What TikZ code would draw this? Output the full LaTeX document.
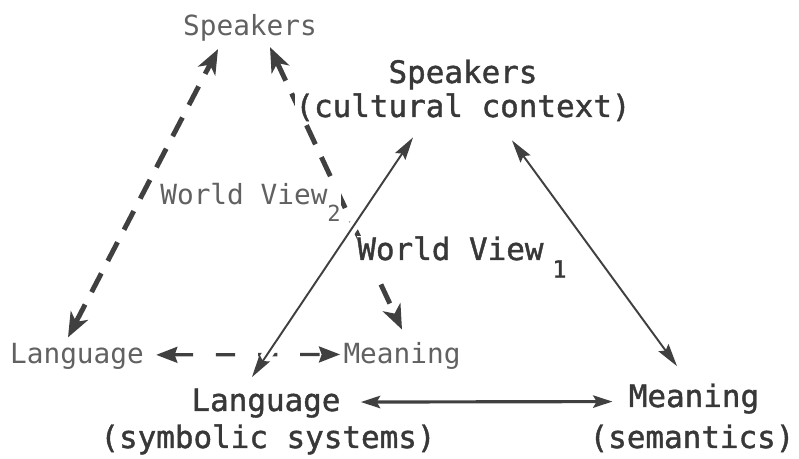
\documentclass[tikz,border=0pt]{standalone}
\usepackage{fontspec}
\usetikzlibrary{arrows.meta,calc,backgrounds}
\newfontfamily\backfont{DejaVu Sans Mono}
\newfontfamily\frontfont{DejaVu Sans Mono}[FakeBold=1.3]
\definecolor{arrgray}{gray}{0.25}
\definecolor{backtext}{gray}{0.38}
\definecolor{fronttext}{gray}{0.22}
\tikzset{
  backlbl/.style={font=\backfont\fontsize{15.8}{18}\selectfont, text=backtext, fill=white, inner sep=0pt, anchor=base},
  frontlbl/.style={font=\frontfont\fontsize{17.6}{20}\selectfont, text=fronttext, fill=white, inner sep=0pt, anchor=base},
  backarr/.style={draw=arrgray, line width=2.8pt, dash pattern=on 12pt off 8pt, {Stealth[length=14pt,width=11pt,inset=4pt]}-{Stealth[length=14pt,width=11pt,inset=4pt]}},
  backflat/.style={draw=arrgray, line width=1.9pt, dash pattern=on 11pt off 13pt, {Stealth[length=12pt,width=9pt,inset=1.5pt]}-{Stealth[length=12pt,width=9pt,inset=1.5pt]}},
  frontarr/.style={draw=arrgray, line width=1.1pt, preaction={draw=white, line width=6pt, -}, {Stealth[length=13pt,width=7pt,inset=2pt]}-{Stealth[length=13pt,width=7pt,inset=2pt]}},
  frontflat/.style={draw=arrgray, line width=1.8pt, {Stealth[length=11pt,width=7pt,inset=2pt]}-{Stealth[length=11pt,width=7pt,inset=2pt]}}
}

\begin{document}
\begin{tikzpicture}[x=0.02cm, y=-0.02cm]
    \useasboundingbox (0,0) rectangle (799,459);

    % world view 2
    \node[backlbl] (spk2) at (250,36) {Speakers};
    \node[backlbl, anchor=base west] (wv2) at (160,205) {World View\raisebox{-9.5pt}{\fontsize{12.6}{14}\selectfont 2}};
    \node[backlbl] (lang2) at (77,364) {Language};
    \node[backlbl] (mean2) at (402,364) {Meaning};

    % world view 1
    \node[frontlbl] (spk1) at (463,83) {Speakers};
    \node[frontlbl] (ctx1) at (463,117) {(cultural context)};
    \node[frontlbl, anchor=base west] (wv1) at (357,260) {World View\hspace{5pt}\raisebox{-10pt}{\fontsize{13.5}{15}\selectfont 1}};
    \node[frontlbl] (lang1) at (266,411) {Language};
    \node[frontlbl] (sym1) at (268,448) {(symbolic systems)};
    \node[frontlbl] (mean1) at (694,407) {Meaning};
    \node[frontlbl] (sem1) at (692,448) {(semantics)};

    \begin{scope}[on background layer]
    \draw[backarr] ($(lang2.north)+(-9,-6)$) -- ($(spk2.south)+(-32,7)$);
    \draw[backarr] ($(spk2.south)+(20,5)$) -- ($(mean2.north)+(0,-13)$);
    \draw[backflat] ($(lang2.east)+(12,-2)$) -- ($(mean2.west)+(-3,-2)$);

    \draw[frontarr] ($(lang1.north)+(-14,-11)$) -- ($(ctx1.south)+(-50,16)$);
    \draw[frontarr] ($(ctx1.south)+(49,19)$) -- ($(mean1.north)+(-17,-17)$);
    \draw[frontflat] ($(lang1.east)+(20,-1)$) -- ($(mean1.west)+(-16,3)$);
    \end{scope}
\end{tikzpicture}
\end{document}
